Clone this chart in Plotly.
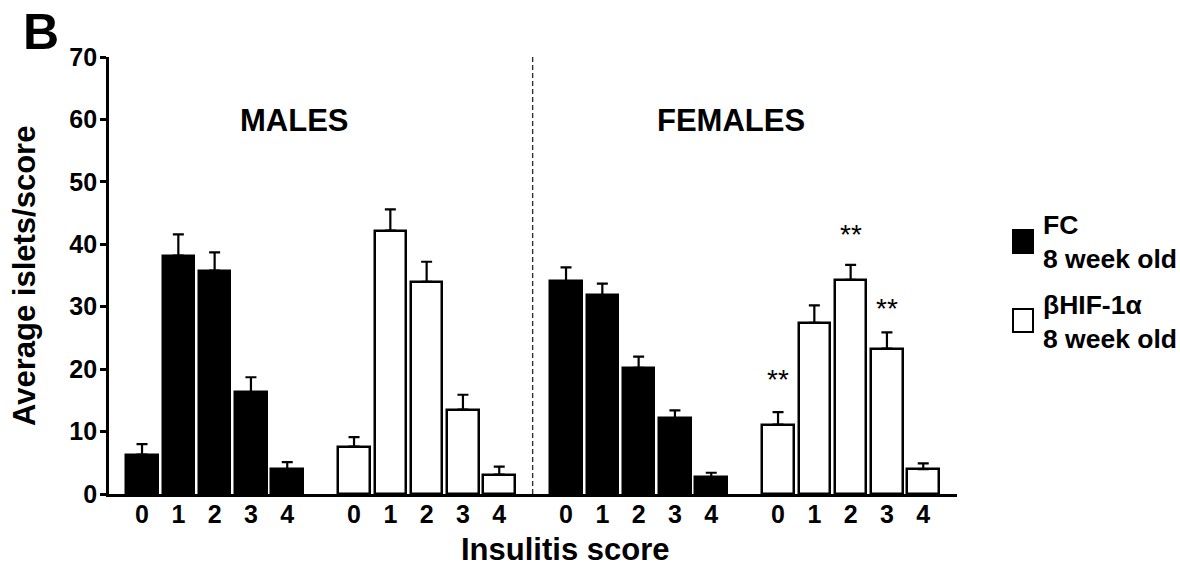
import plotly.graph_objects as go

# ---------------- data ----------------
scores = ["0", "1", "2", "3", "4"]
male_fc = [6.3, 38.2, 35.8, 16.3, 4.0]
male_fc_err = [1.7, 3.4, 2.9, 2.4, 1.1]
male_hif = [7.6, 42.2, 34.0, 13.5, 3.1]
male_hif_err = [1.5, 3.4, 3.2, 2.4, 1.3]
female_fc = [34.1, 31.8, 20.2, 12.1, 2.7]
female_fc_err = [2.2, 1.9, 1.8, 1.3, 0.7]
female_hif = [11.1, 27.4, 34.3, 23.3, 4.0]
female_hif_err = [2.0, 2.8, 2.4, 2.6, 0.9]
sig_marks = ["**", "", "**", "**", ""]   # female βHIF-1α bars
legend_labels = ["FC<br>8 week old", "βHIF-1α<br>8 week old"]

# ---------------- layout constants ----------------
W, H = 1180, 567
ML, MR, MT, MB = 109, 223, 57, 73
PW, PH = W - ML - MR, H - MT - MB
GROUP_STEP = 5.84
BAR_W = 0.87
FONT = "Arial, Liberation Sans, Helvetica, sans-serif"
SIG_SHIFT = [15, 0, 13, 6, 0]

def px_x(px):
    return (px - ML) / PW

def px_y(py):
    return (H - MB - py) / PH

def pos(g):
    return [g * GROUP_STEP + i for i in range(5)]

fig = go.Figure()

series = [
    (0, male_fc, male_fc_err, "black"),
    (1, male_hif, male_hif_err, "white"),
    (2, female_fc, female_fc_err, "black"),
    (3, female_hif, female_hif_err, "white"),
]
for g, vals, errs, fill in series:
    fig.add_trace(go.Bar(
        x=pos(g), y=vals, width=BAR_W,
        marker=dict(color=fill, line=dict(color="black", width=2.5)),
        error_y=dict(type="data", array=errs, arrayminus=[0] * 5, symmetric=False,
                     color="black", thickness=2.2, width=5.5),
        showlegend=False, hoverinfo="skip",
    ))

# significance marks
for i, s in enumerate(sig_marks):
    if s:
        top = female_hif[i] + female_hif_err[i]
        fig.add_annotation(x=pos(3)[i], y=top, text=s, showarrow=False,
                           xanchor="center", yanchor="bottom", yshift=SIG_SHIFT[i],
                           font=dict(family=FONT, size=28, color="black"))

tickvals = pos(0) + pos(1) + pos(2) + pos(3)
ticktext = scores * 4

# dashed separator
sep_x = (pos(1)[-1] + pos(2)[0]) / 2
fig.add_shape(type="line", xref="x", yref="y", x0=sep_x, x1=sep_x, y0=0, y1=70,
              line=dict(color="#333", width=1.4, dash="5px,3px"))

def text_at(px, py, txt, size, **kw):
    fig.add_annotation(xref="paper", yref="paper", x=px_x(px), y=px_y(py), text=txt,
                       showarrow=False, xanchor=kw.pop("xanchor", "center"),
                       yanchor=kw.pop("yanchor", "middle"),
                       font=dict(family=FONT, size=size, color="black", weight="bold"), **kw)

# group titles
text_at(294.5, 121, "MALES", 31)
text_at(731, 121, "FEMALES", 31)
# panel letter
text_at(41, 32, "B", 50)
# axis titles
text_at(565, 549, "Insulitis score", 31)
text_at(24, 276, "Average islets/score", 31, textangle=-90)

# legend (manual)
leg_fills = ["black", "white"]
leg_box_top = [230, 309]
leg_text_mid = [242, 322]
for fill, top, mid, lab in zip(leg_fills, leg_box_top, leg_text_mid, legend_labels):
    fig.add_shape(type="rect", xref="paper", yref="paper",
                  x0=px_x(1013), x1=px_x(1033), y0=px_y(top), y1=px_y(top + 23),
                  fillcolor=fill, line=dict(color="black", width=2))
    text_at(1041, mid, lab, 26.5, xanchor="left", align="left")

fig.update_layout(
    width=W, height=H,
    margin=dict(l=ML, r=MR, t=MT, b=MB, pad=0),
    plot_bgcolor="white", paper_bgcolor="white",
    barmode="overlay", bargap=0,
    font=dict(family=FONT, color="black"),
    xaxis=dict(range=[-0.91, 22.45], tickvals=tickvals, ticktext=ticktext,
               showline=True, linecolor="black", linewidth=2.7, ticks="",
               ticklabelstandoff=-4,
               showgrid=False, zeroline=False,
               tickfont=dict(family=FONT, size=25, color="black", weight="bold")),
    yaxis=dict(range=[0, 70], tickvals=list(range(0, 71, 10)),
               showline=True, linecolor="black", linewidth=2.7,
               ticks="outside", ticklen=6, tickwidth=2.5, tickcolor="black",
               ticklabelstandoff=-2,
               showgrid=False, zeroline=False,
               tickfont=dict(family=FONT, size=25, color="black", weight="bold")),
)

fig.write_html("out.html")
